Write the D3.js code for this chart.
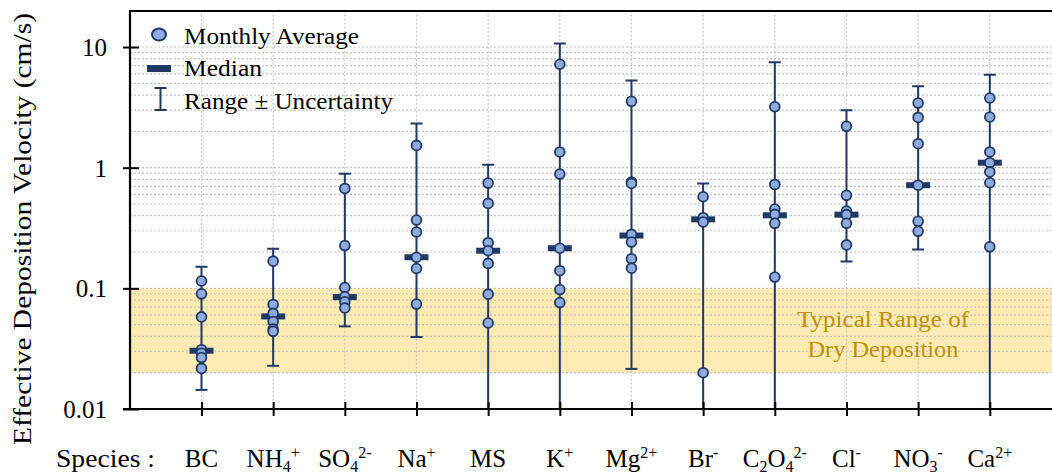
<!DOCTYPE html>
<html><head><meta charset="utf-8">
<script src="https://cdn.jsdelivr.net/npm/d3@7"></script>
</head>
<body style="margin:0">
<svg id="chart" width="1052" height="475"></svg>
<script>
// ---------- data ----------
const categories = ["BC","NH4+","SO42-","Na+","MS","K+","Mg2+","Br-","C2O42-","Cl-","NO3-","Ca2+"];
// label pieces: [text, kind] kind: n=normal, sub, sup
const categoryLabels = [
  [["BC","n"]],
  [["NH","n"],["4","sub"],["+","sup"]],
  [["SO","n"],["4","sub"],["2-","sup"]],
  [["Na","n"],["+","sup"]],
  [["MS","n"]],
  [["K","n"],["+","sup"]],
  [["Mg","n"],["2+","sup"]],
  [["Br","n"],["-","sup"]],
  [["C","n"],["2","sub"],["O","n"],["4","sub"],["2-","sup"]],
  [["Cl","n"],["-","sup"]],
  [["NO","n"],["3","sub"],["-","sup"]],
  [["Ca","n"],["2+","sup"]]
];
const monthlyBC   = [0.115, 0.090, 0.058, 0.031, 0.029, 0.0267, 0.0217];
const monthlyNH4  = [0.168, 0.0735, 0.062, 0.053, 0.046, 0.044];
const monthlySO4  = [0.673, 0.226, 0.1016, 0.085, 0.0774, 0.0687];
const monthlyNa   = [1.53, 0.368, 0.293, 0.181, 0.146, 0.074];
const monthlyMS   = [0.745, 0.506, 0.239, 0.205, 0.161, 0.0895, 0.0516];
const monthlyK    = [7.2, 1.35, 0.885, 0.215, 0.14, 0.0977, 0.0762];
const monthlyMg   = [3.55, 0.76, 0.74, 0.28, 0.242, 0.176, 0.147];
const monthlyBr   = [0.574, 0.385, 0.355, 0.020];
const monthlyC2O4 = [3.2, 0.726, 0.454, 0.41, 0.346, 0.124];
const monthlyCl   = [2.20, 0.590, 0.437, 0.408, 0.346, 0.229];
const monthlyNO3  = [3.43, 2.61, 1.58, 0.716, 0.359, 0.297];
const monthlyCa   = [3.78, 2.63, 1.35, 1.10, 0.923, 0.75, 0.221];
const medians   = [0.0304, 0.0585, 0.0846, 0.181, 0.205, 0.215, 0.274, 0.373, 0.403, 0.408, 0.716, 1.10];
const rangeHigh = [0.151, 0.213, 0.889, 2.32, 1.06, 10.7, 5.28, 0.74, 7.48, 2.99, 4.74, 5.89];
const rangeLow  = [0.0144, 0.0228, 0.0484, 0.0395, 0.004, 0.004, 0.0215, 0.004, 0.004, 0.167, 0.21, 0.004];
const yTickValues = [0.01, 0.1, 1, 10];
const typicalRange = [0.02, 0.1];
const legendLabels = ["Monthly Average", "Median", "Range \u00B1 Uncertainty"];
const yTitle = "Effective  Deposition Velocity (cm/s)";
const xTitle = "Species :";
const bandText = ["Typical Range of", "Dry Deposition"];

const monthly = [monthlyBC, monthlyNH4, monthlySO4, monthlyNa, monthlyMS, monthlyK,
                 monthlyMg, monthlyBr, monthlyC2O4, monthlyCl, monthlyNO3, monthlyCa];

// ---------- layout ----------
const FONT = "'Liberation Serif'";
const pL = 130, pR = 1060, pT = 10.7, pB = 409;
const navy = "#1F3864", fill = "#8FAADC";
const svg = d3.select("#chart");

const x = d3.scalePoint().domain(categories).range([201.5, 989.8]);
const y = d3.scaleLog().domain([0.01, 20]).range([pB, pT]);

svg.append("defs").append("clipPath").attr("id","plotclip")
  .append("rect").attr("x", pL).attr("y", pT).attr("width", pR-pL).attr("height", pB-pT);

// typical range band
svg.append("rect")
  .attr("x", pL).attr("width", pR-pL)
  .attr("y", y(typicalRange[1])).attr("height", y(typicalRange[0]) - y(typicalRange[1]))
  .attr("fill", "#FDEBB3");

// grid
const grid = svg.append("g").attr("stroke","#C4C4C4").attr("stroke-width",1.2).attr("stroke-dasharray","2,2");
grid.selectAll("line.h").data(y.ticks()).join("line").attr("class","h")
  .attr("x1", pL).attr("x2", pR)
  .attr("y1", d => y(d)).attr("y2", d => y(d));
grid.selectAll("line.v").data(categories).join("line").attr("class","v")
  .attr("x1", d => x(d)).attr("x2", d => x(d))
  .attr("y1", pT).attr("y2", pB);

// band text
svg.append("g").selectAll("text").data(bandText).join("text")
  .attr("font-family", FONT).attr("fill","#BF9000").attr("font-size",24).attr("text-anchor","middle")
  .attr("x", 883).attr("y", (d,i) => 327 + i*29.5)
  .attr("textLength", (d,i) => i === 0 ? 172 : 151)
  .attr("lengthAdjust","spacingAndGlyphs")
  .text(d => d);

// data marks
const plot = svg.append("g").attr("clip-path","url(#plotclip)");
categories.forEach((c, i) => {
  const cx = x(c);
  const g = plot.append("g");
  g.append("line").attr("x1",cx).attr("x2",cx)
    .attr("y1", y(rangeLow[i])).attr("y2", y(rangeHigh[i]))
    .attr("stroke", navy).attr("stroke-width", 2);
  [rangeLow[i], rangeHigh[i]].forEach(v => {
    g.append("line").attr("x1", cx-6).attr("x2", cx+6)
      .attr("y1", y(v)).attr("y2", y(v))
      .attr("stroke", navy).attr("stroke-width", 2);
  });
  g.append("rect").attr("x", cx-12).attr("width", 24)
    .attr("y", y(medians[i]) - 3).attr("height", 6).attr("fill", navy);
  g.selectAll("circle").data(monthly[i]).join("circle")
    .attr("cx", cx).attr("cy", d => y(d)).attr("r", 4.9)
    .attr("fill", fill).attr("stroke", navy).attr("stroke-width", 1.8);
});

// top frame
svg.append("line").attr("x1", pL).attr("x2", pR).attr("y1", pT+0.3).attr("y2", pT+0.3)
  .attr("stroke","#000").attr("stroke-width",2.2);

// y axis
const yAxis = svg.append("g").attr("transform", `translate(${pL},0)`)
  .call(d3.axisLeft(y).tickValues(yTickValues).tickSize(7).tickPadding(16)
        .tickFormat(d => d3.format("~g")(d)));
yAxis.attr("font-family", FONT).attr("font-size", 25);
yAxis.select(".domain").remove();
yAxis.selectAll(".tick line").attr("x1", 9).attr("x2", -7).attr("stroke","#000").attr("stroke-width",2);
yAxis.selectAll(".tick text").attr("font-family", FONT).attr("font-size", 25).attr("fill","#000").attr("dy","0.34em");
svg.append("line").attr("x1", pL).attr("x2", pL).attr("y1", pT-0.8).attr("y2", pB+1)
  .attr("stroke","#000").attr("stroke-width",2.2);

// x axis
const xAxis = svg.append("g").attr("transform", `translate(0,${pB})`)
  .call(d3.axisBottom(x).tickSize(7).tickFormat(""));
xAxis.select(".domain").remove();
xAxis.selectAll(".tick line").attr("y1", -7).attr("y2", 7).attr("stroke","#000").attr("stroke-width",2);
svg.append("line").attr("x1", 123).attr("x2", pR).attr("y1", pB).attr("y2", pB)
  .attr("stroke","#000").attr("stroke-width",2.2);

// category labels
const offs = {n:0, sub:5, sup:-9};
categories.forEach((c, i) => {
  const t = svg.append("text").attr("font-family", FONT).attr("x", x(c)).attr("y", 467)
    .attr("text-anchor","middle").attr("font-size",25).attr("fill","#000");
  let cur = 0;
  categoryLabels[i].forEach(([s, k]) => {
    const o = offs[k];
    t.append("tspan").attr("dy", o - cur).attr("font-size", k === "n" ? 25 : 16).text(s);
    cur = o;
  });
});
svg.append("text").attr("font-family", FONT).attr("x", 56).attr("y", 467).attr("font-size",25)
  .attr("textLength", 99).attr("lengthAdjust","spacingAndGlyphs").text(xTitle);

// y title
svg.append("text").attr("font-family", FONT).attr("transform","translate(31,229) rotate(-90)")
  .attr("text-anchor","middle").attr("font-size",26)
  .attr("textLength", 432).attr("lengthAdjust","spacingAndGlyphs")
  .text(yTitle);

// legend
const lg = svg.append("g");
lg.append("ellipse").attr("cx",159).attr("cy",34.5).attr("rx",7).attr("ry",6)
  .attr("fill",fill).attr("stroke",navy).attr("stroke-width",2);
lg.append("rect").attr("x",147).attr("y",65).attr("width",24).attr("height",7).attr("fill",navy);
lg.append("line").attr("x1",160.5).attr("x2",160.5).attr("y1",88).attr("y2",110).attr("stroke",navy).attr("stroke-width",2);
[88,110].forEach(v => lg.append("line").attr("x1",154.5).attr("x2",166.5).attr("y1",v).attr("y2",v).attr("stroke",navy).attr("stroke-width",2));
const legendW = [175, 78, 209];
lg.selectAll("text").data(legendLabels).join("text").attr("font-family", FONT)
  .attr("x",184).attr("y",(d,i) => [44, 76, 109][i])
  .attr("font-size",24).attr("textLength",(d,i)=>legendW[i]).attr("lengthAdjust","spacingAndGlyphs")
  .text(d => d);
</script>
</body></html>
